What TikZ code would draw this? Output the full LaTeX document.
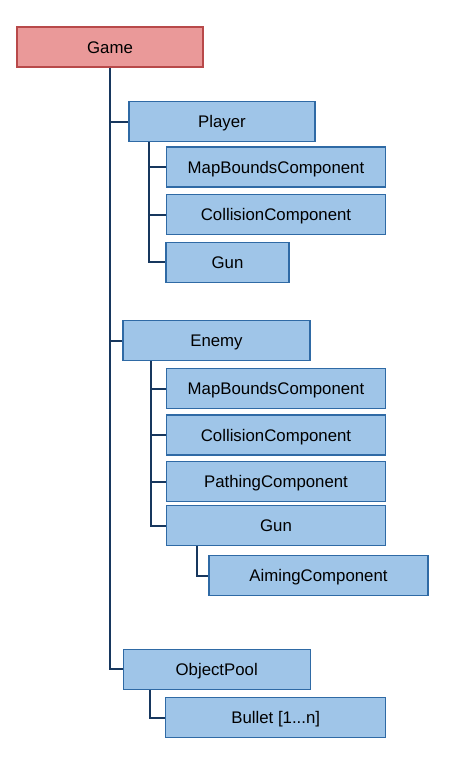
\documentclass[tikz,border=0pt]{standalone}
\usepackage{fontspec}
\setmainfont{Liberation Sans}
\usetikzlibrary{positioning}

\definecolor{boxfill}{HTML}{9FC5E8}
\definecolor{boxline}{HTML}{2F6AA5}
\definecolor{rootfill}{HTML}{EA9999}
\definecolor{rootline}{HTML}{B8494A}
\definecolor{wire}{HTML}{17375E}

\begin{document}
\begin{tikzpicture}[
    x=1pt, y=-1pt,
    cls/.style={draw=boxline, fill=boxfill, line width=1.2pt,
                minimum height=40pt, inner sep=0pt,
                text height=12.5pt, text depth=0pt,
                font=\fontsize{16.8}{18}\selectfont},
    root/.style={cls, draw=rootline, fill=rootfill},
    conn/.style={draw=wire, line width=2pt}
  ]
  \useasboundingbox (0,0) rectangle (453,761);

  % Root
  \node[root, minimum width=186pt] (game) at (110, 47) {Game};

  % Player subtree
  \node[cls, minimum width=186pt] (player) at (222, 121.5) {Player};
  \node[cls, minimum width=219pt] (pmap) at (276, 167) {MapBoundsComponent};
  \node[cls, minimum width=219pt] (pcol) at (276, 214.5) {CollisionComponent};
  \node[cls, minimum width=123pt] (pgun) at (227.5, 262.3) {Gun};

  % Enemy subtree
  \node[cls, minimum width=187pt] (enemy) at (216.5, 340.5) {Enemy};
  \node[cls, minimum width=219pt] (emap) at (276, 388.5) {MapBoundsComponent};
  \node[cls, minimum width=219pt] (ecol) at (276, 435) {CollisionComponent};
  \node[cls, minimum width=219pt] (epath) at (276, 481.5) {PathingComponent};
  \node[cls, minimum width=219pt] (egun) at (276, 525.7) {Gun};
  \node[cls, minimum width=219pt] (eaim) at (318.5, 575.7) {AimingComponent};

  % Pool subtree
  \node[cls, minimum width=187pt] (pool) at (216.7, 669.3) {ObjectPool};
  \node[cls, minimum width=220pt] (bullet) at (275.7, 717.5) {Bullet [1...n]};

  % Trunk from Game
  \draw[conn] (game.south) |- (pool.west);
  \foreach \n in {player, enemy}
    \draw[conn] (game.south |- \n.west) -- (\n.west);

  % Player children
  \coordinate (pbus) at ([xshift=21pt]player.south west);
  \draw[conn] (pbus) |- (pgun.west);
  \foreach \n in {pmap, pcol}
    \draw[conn] (pbus |- \n.west) -- (\n.west);

  % Enemy children
  \coordinate (ebus) at ([xshift=29pt]enemy.south west);
  \draw[conn] (ebus) |- (egun.west);
  \foreach \n in {emap, ecol, epath}
    \draw[conn] (ebus |- \n.west) -- (\n.west);

  % Gun -> aiming
  \coordinate (gbus) at ([xshift=30.7pt]egun.south west);
  \draw[conn] (gbus) |- (eaim.west);

  % Pool -> bullets
  \coordinate (obus) at ([xshift=27.4pt]pool.south west);
  \draw[conn] (obus) |- (bullet.west);
\end{tikzpicture}
\end{document}
